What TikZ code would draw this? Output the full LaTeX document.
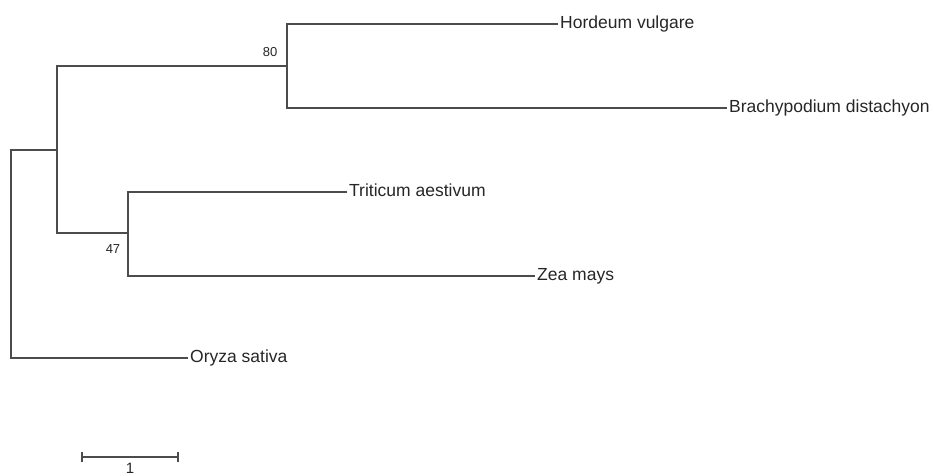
\documentclass[tikz,border=0pt]{standalone}
\usepackage{fontspec}
\setmainfont{Liberation Sans}
\begin{document}
\begin{tikzpicture}[x=1pt,y=-1pt,
  branch/.style={draw=black!70, line width=1.1pt},
  leaf/.style={anchor=mid west, inner sep=0pt, xshift=2pt, yshift=-1.5pt, font=\fontsize{17.5}{19}\selectfont, text=black!85},
  support/.style={inner sep=0pt, font=\fontsize{13}{15}\selectfont, text=black!85}]
\useasboundingbox (0,0) rectangle (934,476);

% internal nodes
\coordinate (rootTop) at (11,150);
\coordinate (rootBot) at (11,358);
\coordinate (n1) at (57,150);
\coordinate (n1top) at (57,66);
\coordinate (n1bot) at (57,233);
\coordinate (n2) at (287,66);
\coordinate (n2top) at (287,24);
\coordinate (n2bot) at (287,108);
\coordinate (n3) at (128,233);
\coordinate (n3top) at (128,192);
\coordinate (n3bot) at (128,276);

% leaf tips
\coordinate (tHor) at (558,24);
\coordinate (tBra) at (727,108);
\coordinate (tTri) at (347,192);
\coordinate (tZea) at (535,276);
\coordinate (tOry) at (188,358);

\node[leaf] (hor) at (tHor) {Hordeum vulgare};
\node[leaf] (bra) at (tBra) {Brachypodium distachyon};
\node[leaf] (tri) at (tTri) {Triticum aestivum};
\node[leaf] (zea) at (tZea) {Zea mays};
\node[leaf] (ory) at (tOry) {Oryza sativa};

% tree
\draw[branch] (n1) -- (rootTop) -- (rootBot) -- (tOry);
\draw[branch] (n2) -- (n1top) -- (n1bot) -- (n3);
\draw[branch] (tHor) -- (n2top) -- (n2bot) -- (tBra);
\draw[branch] (tTri) -- (n3top) -- (n3bot) -- (tZea);

% bootstrap values
\node[support] (b80) at (270,52) {80};
\node[support] (b47) at (113,249) {47};

% scale bar
\coordinate (sL) at (82,457);
\coordinate (sR) at (178,457);
\draw[branch] (sL) -- (sR);
\draw[branch] ([yshift=-5pt]sL) -- ([yshift=5pt]sL);
\draw[branch] ([yshift=-5pt]sR) -- ([yshift=5pt]sR);
\node[support, anchor=north, font=\fontsize{15}{17}\selectfont] (sLab) at (130,463) {1};
\end{tikzpicture}
\end{document}
